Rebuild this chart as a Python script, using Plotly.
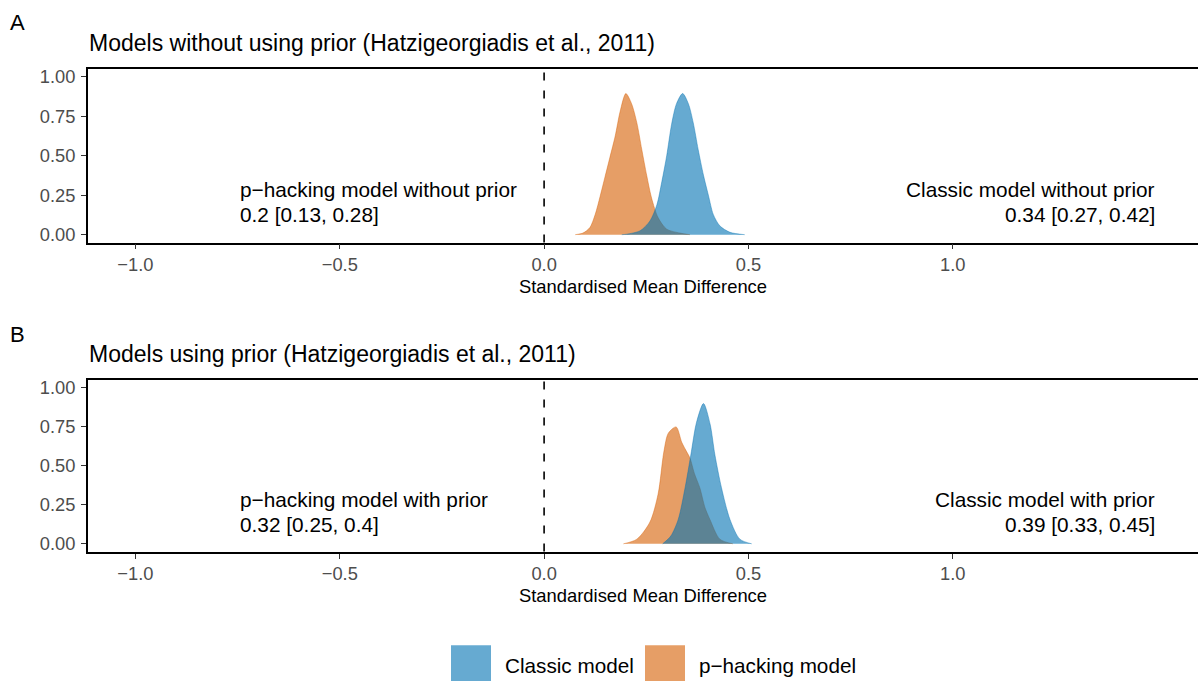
import plotly.graph_objects as go

# Posterior densities of the standardised mean difference (scaled heights)
# Panel A: models without prior
a_classic_x = [0.190, 0.202, 0.235, 0.259, 0.276, 0.288, 0.300, 0.312, 0.324, 0.339,
               0.353, 0.365, 0.377, 0.390, 0.402, 0.414, 0.430, 0.455, 0.491]
a_classic_y = [0.000, 0.003, 0.025, 0.087, 0.190, 0.335, 0.500, 0.700, 0.830, 0.894,
               0.830, 0.708, 0.540, 0.376, 0.250, 0.128, 0.056, 0.015, 0.000]
a_phack_x = [0.076, 0.095, 0.112, 0.125, 0.137, 0.149, 0.161, 0.174, 0.186, 0.200,
             0.214, 0.227, 0.239, 0.251, 0.263, 0.279, 0.300, 0.333, 0.357]
a_phack_y = [0.000, 0.010, 0.045, 0.128, 0.242, 0.366, 0.490, 0.625, 0.780, 0.894,
             0.830, 0.708, 0.540, 0.376, 0.232, 0.108, 0.035, 0.010, 0.000]

# Panel B: models with prior
b_classic_x = [0.290, 0.310, 0.328, 0.345, 0.359, 0.373, 0.390, 0.406, 0.418,
               0.434, 0.455, 0.479, 0.508]
b_classic_y = [0.000, 0.050, 0.155, 0.360, 0.570, 0.780, 0.900, 0.770, 0.570,
               0.360, 0.155, 0.030, 0.000]
b_phack_x = [0.194, 0.227, 0.259, 0.279, 0.293, 0.304, 0.323, 0.337, 0.349, 0.357,
             0.368, 0.381, 0.394, 0.406, 0.430, 0.462]
b_phack_y = [0.000, 0.030, 0.140, 0.320, 0.590, 0.710, 0.750, 0.650, 0.590, 0.550,
             0.450, 0.360, 0.230, 0.155, 0.030, 0.000]

# Labels
panel_tags = ["A", "B"]
panel_titles = ["Models without using prior (Hatzigeorgiadis et al., 2011)",
                "Models using prior (Hatzigeorgiadis et al., 2011)"]
phack_labels = [["p\u2212hacking model without prior", "0.2 [0.13, 0.28]"],
                ["p\u2212hacking model with prior", "0.32 [0.25, 0.4]"]]
classic_labels = [["Classic model without prior", "0.34 [0.27, 0.42]"],
                  ["Classic model with prior", "0.39 [0.33, 0.45]"]]
series_names = ["Classic model", "p\u2212hacking model"]
x_ticks = [-1.0, -0.5, 0.0, 0.5, 1.0]
x_ticktext = ["\u22121.0", "\u22120.5", "0.0", "0.5", "1.0"]
y_ticks = [0.0, 0.25, 0.5, 0.75, 1.0]
y_ticktext = ["0.00", "0.25", "0.50", "0.75", "1.00"]
x_title = "Standardised Mean Difference"

W, H = 1198, 681
FONT = "Liberation Sans, Arial, Helvetica, sans-serif"
BLUE = "rgba(0,114,178,0.6)"
ORANGE = "rgba(213,94,0,0.6)"
LBL_X_LEFT, LBL_X_RIGHT, LBL_Y = -0.75, 1.5, 0.2


def py(px):
    """pixel row (from top) -> paper y"""
    return 1 - px / H


fig = go.Figure()

panels = [
    (a_classic_x, a_classic_y, a_phack_x, a_phack_y, "x", "y"),
    (b_classic_x, b_classic_y, b_phack_x, b_phack_y, "x2", "y2"),
]

for cx, cy, phx, phy, xa, ya in panels:
    fig.add_trace(go.Scatter(
        x=phx, y=phy, mode="lines", fill="tozeroy", fillcolor=ORANGE,
        line=dict(color=ORANGE, width=0.7, shape="spline", smoothing=0.8),
        xaxis=xa, yaxis=ya, showlegend=False, hoverinfo="skip"))
    fig.add_trace(go.Scatter(
        x=cx, y=cy, mode="lines", fill="tozeroy", fillcolor=BLUE,
        line=dict(color=BLUE, width=0.7, shape="spline", smoothing=0.8),
        xaxis=xa, yaxis=ya, showlegend=False, hoverinfo="skip"))

# panel vertical layout (pixel rows of the plotting areas)
panel_px = [(66.5, 241.7), (380.5, 553.5)]

axis_common = dict(
    showgrid=False, zeroline=False, showline=True, linecolor="black", linewidth=1.8,
    ticks="outside", ticklen=5, tickwidth=1.1, tickcolor="#333333",
    tickfont=dict(family=FONT, size=18.3, color="#4D4D4D"),
)

for i, (top, bot) in enumerate(panel_px):
    sfx = "" if i == 0 else "2"
    fig.update_layout(**{
        f"xaxis{sfx}": dict(
            axis_common, domain=[0, 1], range=[-1.116, 1.6], anchor=f"y{sfx}",
            mirror=True, tickvals=x_ticks, ticktext=x_ticktext,
            title=dict(text=x_title, font=dict(family=FONT, size=18.4, color="black"),
                       standoff=6),
        ),
        f"yaxis{sfx}": dict(
            axis_common, domain=[py(bot), py(top)], range=[-0.05, 1.05],
            anchor=f"x{sfx}", tickvals=y_ticks, ticktext=y_ticktext,
            ticklabelstandoff=2,
        ),
    })
    xref, yref = f"x{sfx}", f"y{sfx}"
    # reference line at zero
    fig.add_shape(type="line", xref=xref, yref=f"{yref} domain", x0=0, x1=0, y0=0, y1=1,
                  line=dict(color="black", width=1.6, dash="8px,10px"))
    # panel tag and title
    fig.add_annotation(text=panel_tags[i], xref="paper", yref="paper",
                       x=-80 / (W - 88), y=py(top - 46.5), xanchor="left", yanchor="middle",
                       showarrow=False, font=dict(family=FONT, size=22, color="black"))
    fig.add_annotation(text=panel_titles[i], xref="paper", yref="paper",
                       x=-1.5 / (W - 88), y=py(top - 26.5), xanchor="left", yanchor="middle",
                       showarrow=False, font=dict(family=FONT, size=23, color="black"))
    # posterior summaries
    for j, line in enumerate(phack_labels[i]):
        fig.add_annotation(text=line, xref=xref, yref=yref, x=LBL_X_LEFT, y=LBL_Y,
                           xanchor="left", yanchor="middle", yshift=13.5 - 25 * j,
                           showarrow=False, font=dict(family=FONT, size=20.8, color="black"))
    for j, line in enumerate(classic_labels[i]):
        fig.add_annotation(text=line, xref=xref, yref=yref, x=LBL_X_RIGHT, y=LBL_Y,
                           xanchor="right", yanchor="middle", yshift=13.5 - 25 * j,
                           showarrow=False, font=dict(family=FONT, size=20.8, color="black"))

# legend keys along the bottom
key_left = [451, 645]
text_left = [503, 697]
for k, (col, name) in enumerate(zip([BLUE, ORANGE], series_names)):
    fig.add_shape(type="rect", xref="paper", yref="paper",
                  x0=(key_left[k] - 88) / (W - 88), x1=(key_left[k] + 40 - 88) / (W - 88),
                  y0=py(688), y1=py(648), fillcolor=col, line=dict(width=0))
    fig.add_annotation(text=name, xref="paper", yref="paper",
                       x=(text_left[k] - 88) / (W - 88), y=py(668),
                       xanchor="left", yanchor="middle", showarrow=False,
                       font=dict(family=FONT, size=20.7, color="black"))

fig.update_layout(
    width=W, height=H, margin=dict(l=88, r=0, t=0, b=0),
    paper_bgcolor="white", plot_bgcolor="white",
    font=dict(family=FONT), showlegend=False,
)

fig.write_html("out.html")
